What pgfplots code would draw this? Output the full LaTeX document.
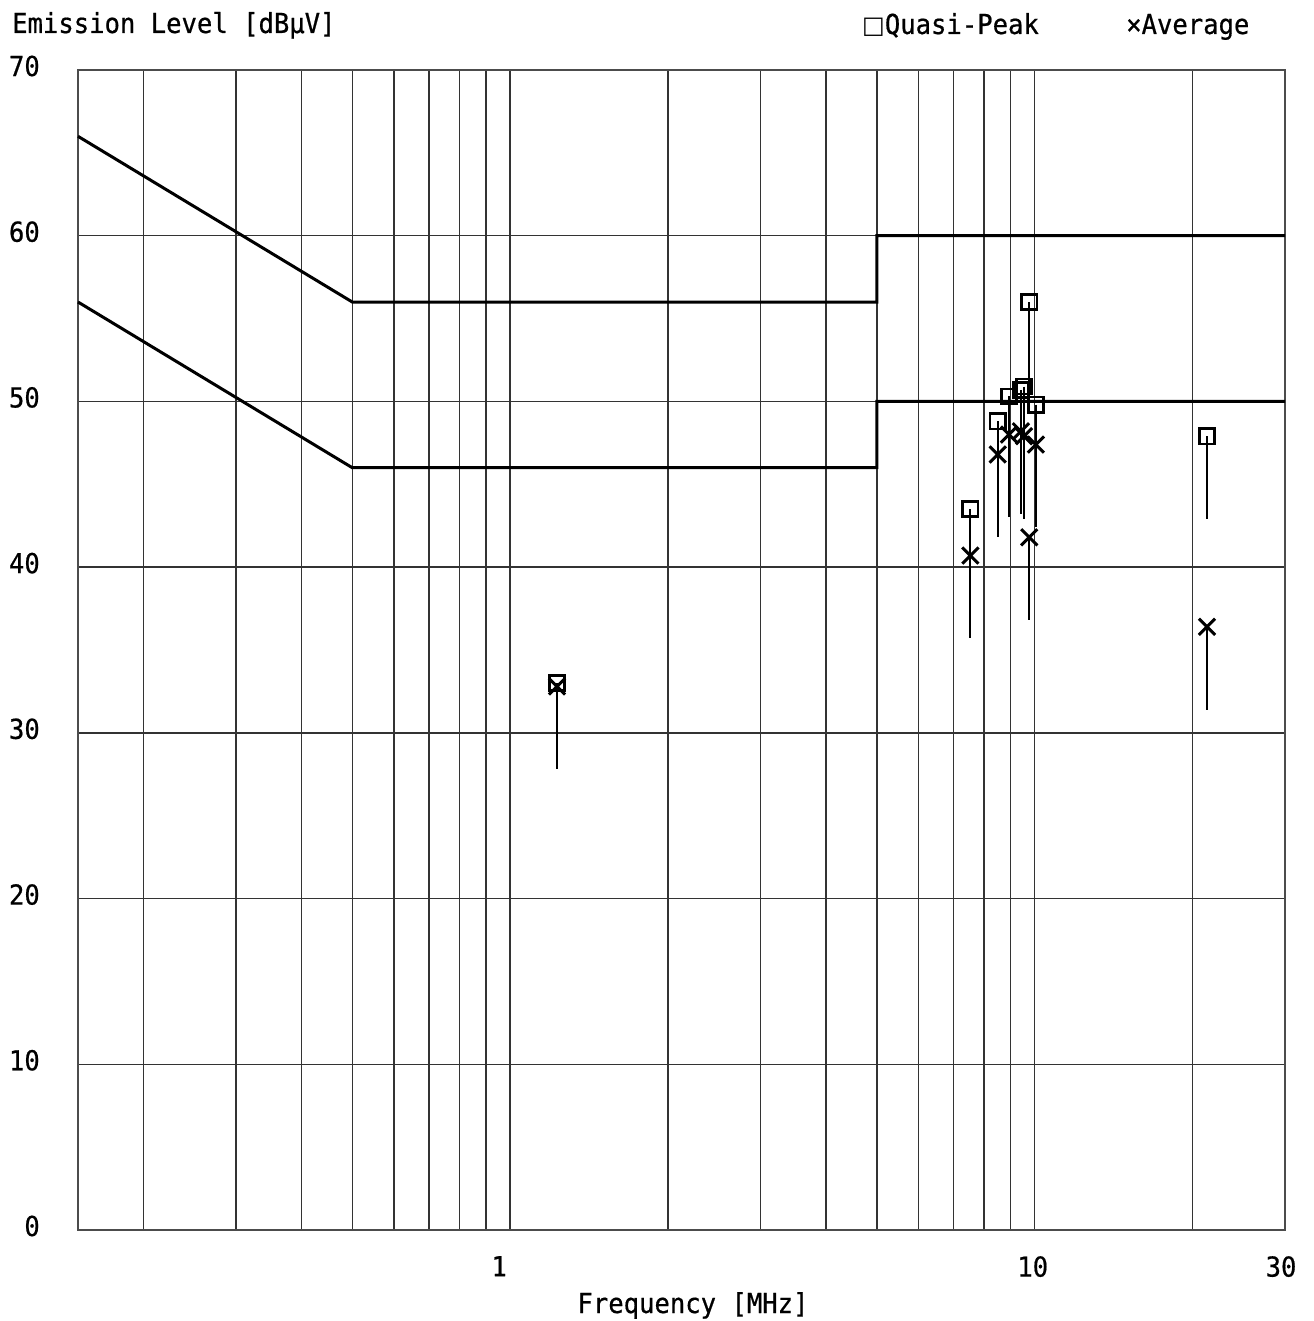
\documentclass[border=0pt]{standalone}
\usepackage{fontspec}
\setmainfont[FakeStretch=0.93, FakeBold=0.6]{DejaVu Sans Mono}
\newfontfamily\symfont{DejaVu Sans}
\usepackage{pgfplots}
\usepackage{pgfplotstable}
\pgfplotsset{compat=1.18}

% Measured emission levels: frequency [MHz], quasi-peak and average [dBuV]
\pgfplotstableread{
f      qp    av
1.228  33.0  32.8
7.54   43.5  40.7
8.50   48.8  46.8
8.93   50.3  48.0
9.41   50.7  48.2
9.54   50.9  47.9
9.76   56.0  41.8
10.05  49.8  47.4
21.3   47.9  36.4
}\emissions

\newcommand{\chartfont}{\fontsize{27.5}{32}\selectfont}

\begin{document}
\begin{tikzpicture}[font=\chartfont]
\useasboundingbox (-78pt,-91pt) rectangle (1235pt,1230pt);
\begin{axis}[
  at={(0pt,0pt)}, anchor=south west,
  scale only axis, width=1207pt, height=1160pt,
  xmode=log, xmin=0.15, xmax=30, ymin=0, ymax=70,
  xtick={0.2,0.3,0.4,0.5,0.6,0.7,0.8,0.9,1,2,3,4,5,6,7,8,9,10,20,30},
  xticklabels={,,,,,,,,{1\hspace*{22pt}},,,,,,,,,{10\hspace*{4pt}},,{30\hspace*{8pt}}},
  ytick={0,10,20,30,40,50,60,70},
  yticklabels={0,10,20,30,40,50,60,70},
  major tick length=0pt,
  grid=major,
  major grid style={black!80, line width=1.5pt},
  axis line style={black!70, line width=1.4pt},
  tick label style={font=\chartfont, inner sep=0pt},
  yticklabel style={anchor=east, xshift=-38pt, yshift=4pt},
  xticklabel style={anchor=north, yshift=-26pt},
  clip=false,
]
% CISPR 22 class B limits: quasi-peak and average
\addplot[black, line width=3pt] coordinates {(0.15,66) (0.5,56) (5,56) (5,60) (30,60)};
\addplot[black, line width=3pt] coordinates {(0.15,56) (0.5,46) (5,46) (5,50) (30,50)};

% Quasi-peak readings
\addplot[only marks, black, mark=square, mark size=7.6pt, line width=2.6pt,
  error bars/.cd, y dir=minus, y fixed=5, error mark=none,
  error bar style={line width=2.2pt, black}]
  table[x=f, y=qp] {\emissions};
% Average readings
\addplot[only marks, black, mark=x, mark size=11.5pt, line width=3pt,
  error bars/.cd, y dir=minus, y fixed=5, error mark=none,
  error bar style={line width=2.2pt, black}]
  table[x=f, y=av] {\emissions};
\end{axis}

\node[anchor=base west, inner sep=0pt] at (-66pt,1197pt) {Emission Level [dBμV]};
\node[anchor=base west, inner sep=0pt] at (784pt,1196pt) {{\symfont\fontsize{24}{28}\selectfont □}Quasi-Peak};
\node[anchor=base west, inner sep=0pt] at (1048pt,1196pt) {×Average};
\node[anchor=base, inner sep=0pt] at (615pt,-83pt) {Frequency [MHz]};
\end{tikzpicture}
\end{document}
